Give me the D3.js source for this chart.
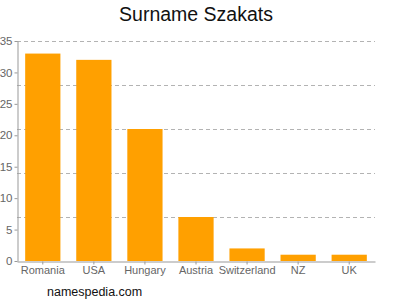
<!DOCTYPE html>
<html lang="en">
<head>
<meta charset="UTF-8">
<title>Surname Szakats</title>
<script src="https://d3js.org/d3.v7.min.js"></script>
<style>
  body { margin: 0; background: #fff; }
  text { font-family: "Liberation Sans", Arial, sans-serif; }
</style>
</head>
<body>
<div id="chart"></div>
<script>
// data
var countries = ["Romania", "USA", "Hungary", "Austria", "Switzerland", "NZ", "UK"];
var counts = [33, 32, 21, 7, 2, 1, 1];
var yTicks = [0, 5, 10, 15, 20, 25, 30, 35];
var gridValues = [7, 14, 21, 28, 35];

var W = 400, H = 300;
var plotLeft = 17, plotRight = 375, plotTop = 41, plotBottom = 261;

var svg = d3.select("#chart").append("svg")
    .attr("width", W)
    .attr("height", H);

var x = d3.scaleBand()
    .domain(countries)
    .range([plotLeft, plotRight])
    .paddingInner(0.31)
    .paddingOuter(0.16);

var y = d3.scaleLinear()
    .domain([0, 35])
    .range([plotBottom, plotTop]);

// dashed grid
svg.append("g")
  .selectAll("line")
  .data(gridValues)
  .enter().append("line")
    .attr("x1", plotLeft)
    .attr("x2", plotRight)
    .attr("y1", function(d) { return Math.round(y(d)) + 0.5; })
    .attr("y2", function(d) { return Math.round(y(d)) + 0.5; })
    .attr("stroke", "#b3b3b3")
    .attr("stroke-dasharray", "4,3");

// bars
svg.selectAll("rect.bar")
  .data(countries)
  .enter().append("rect")
    .attr("class", "bar")
    .attr("x", function(d) { return x(d); })
    .attr("y", function(d, i) { return y(counts[i]); })
    .attr("width", x.bandwidth())
    .attr("height", function(d, i) { return y(0) - y(counts[i]); })
    .attr("fill", "#ffa000");

// y axis
var yAxis = svg.append("g")
    .attr("transform", "translate(" + (plotLeft + 0.5) + ",0)")
    .call(d3.axisLeft(y).tickValues(yTicks).tickSize(3).tickSizeOuter(0).tickPadding(2));
yAxis.select(".domain").attr("stroke", "#999");
yAxis.selectAll(".tick line").attr("stroke", "#999");
yAxis.selectAll("text")
    .attr("fill", "#666")
    .style("font-size", "11.5px");

// x axis
var xAxis = svg.append("g")
    .attr("transform", "translate(0," + (plotBottom + 0.5) + ")")
    .call(d3.axisBottom(x).tickSize(3).tickSizeOuter(0).tickPadding(2));
xAxis.select(".domain").attr("stroke", "#999");
xAxis.selectAll(".tick line").attr("stroke", "#999");
xAxis.selectAll("text")
    .attr("fill", "#666")
    .style("font-size", "11px");

// title
svg.append("text")
    .attr("x", 196)
    .attr("y", 21)
    .attr("text-anchor", "middle")
    .style("font-size", "19.5px")
    .attr("fill", "#111")
    .text("Surname Szakats");

// footer
svg.append("text")
    .attr("x", 47)
    .attr("y", 296)
    .style("font-size", "12.5px")
    .attr("fill", "#111")
    .text("namespedia.com");
</script>
</body>
</html>
